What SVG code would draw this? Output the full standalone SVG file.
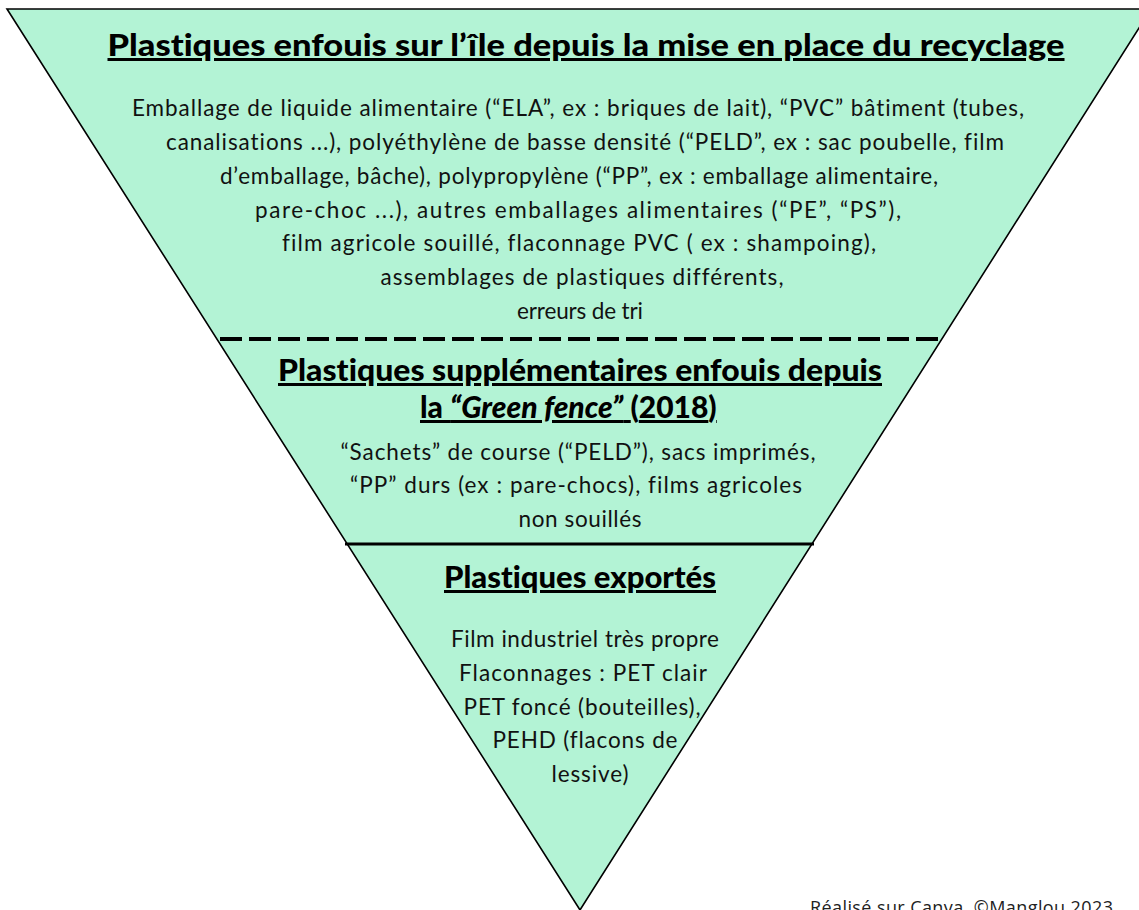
<svg xmlns="http://www.w3.org/2000/svg" width="1139" height="910" viewBox="0 0 1139 910">
<style>
text{font-variant-ligatures:none;}
.h{font-family:Lato,"Liberation Sans",sans-serif;font-weight:900;font-size:30px;fill:#000;text-decoration:underline;}
.b{font-family:Lato,"Liberation Sans",sans-serif;font-weight:400;font-size:22.5px;fill:#111;}
.f{font-family:"Open Sans","Liberation Sans",sans-serif;font-size:18px;fill:#222;}
</style>
<rect width="1139" height="910" fill="#ffffff"/>
<g id="pyramid">
<polygon points="7,9 1151,9 580,910" fill="#b3f3d5" stroke="#000" stroke-width="1.6" stroke-linejoin="miter"/>
</g>
<g id="separators">
<line x1="220" y1="339" x2="938" y2="339" stroke="#000" stroke-width="4" stroke-dasharray="22,7"/>
<line x1="345" y1="544" x2="814" y2="544" stroke="#000" stroke-width="3"/>
</g>
<g id="section-top">
<text class="h" x="586" y="56" text-anchor="middle" textLength="957" lengthAdjust="spacingAndGlyphs">Plastiques enfouis sur l’île depuis la mise en place du recyclage</text>
<g class="b" text-anchor="middle">
<text x="578" y="116" textLength="892">Emballage de liquide alimentaire (“ELA”, ex : briques de lait), “PVC” bâtiment (tubes,</text>
<text x="585" y="150" textLength="838">canalisations ...), polyéthylène de basse densité (“PELD”, ex : sac poubelle, film</text>
<text x="579" y="184" textLength="718">d’emballage, bâche), polypropylène (“PP”, ex : emballage alimentaire,</text>
<text x="578" y="218" textLength="646">pare-choc ...), autres emballages alimentaires (“PE”, “PS”),</text>
<text x="579" y="251" textLength="594">film agricole souillé, flaconnage PVC ( ex : shampoing),</text>
<text x="582" y="285" textLength="403">assemblages de plastiques différents,</text>
<text x="580" y="319" textLength="126">erreurs de tri</text>
</g>
</g>
<g id="section-middle">
<text class="h" x="580" y="381" text-anchor="middle" font-size="26" textLength="604" lengthAdjust="spacingAndGlyphs">Plastiques supplémentaires enfouis depuis </text>
<text class="h" x="420" y="418" font-size="26">la <tspan font-style="italic">“Green fence”</tspan> <tspan text-decoration="none">(</tspan>2018<tspan text-decoration="none">)</tspan></text>
<g class="b" text-anchor="middle">
<text x="578" y="460" textLength="475">“Sachets” de course (“PELD”), sacs imprimés,</text>
<text x="576" y="493" textLength="452">“PP” durs (ex : pare-chocs), films agricoles</text>
<text x="580" y="527" textLength="123">non souillés</text>
</g>
</g>
<g id="section-bottom">
<text class="h" x="580" y="588" text-anchor="middle" font-size="27" textLength="272" lengthAdjust="spacingAndGlyphs">Plastiques exportés</text>
<g class="b" text-anchor="middle">
<text x="585" y="647" textLength="268">Film industriel très propre</text>
<text x="583" y="681" textLength="248">Flaconnages : PET clair</text>
<text x="582" y="715" textLength="237">PET foncé (bouteilles),</text>
<text x="585" y="748" textLength="185">PEHD (flacons de</text>
<text x="590" y="782" textLength="77">lessive)</text>
</g>
</g>
<text class="f" x="810" y="914" textLength="303">Réalisé sur Canva. ©Manglou 2023</text>
</svg>
